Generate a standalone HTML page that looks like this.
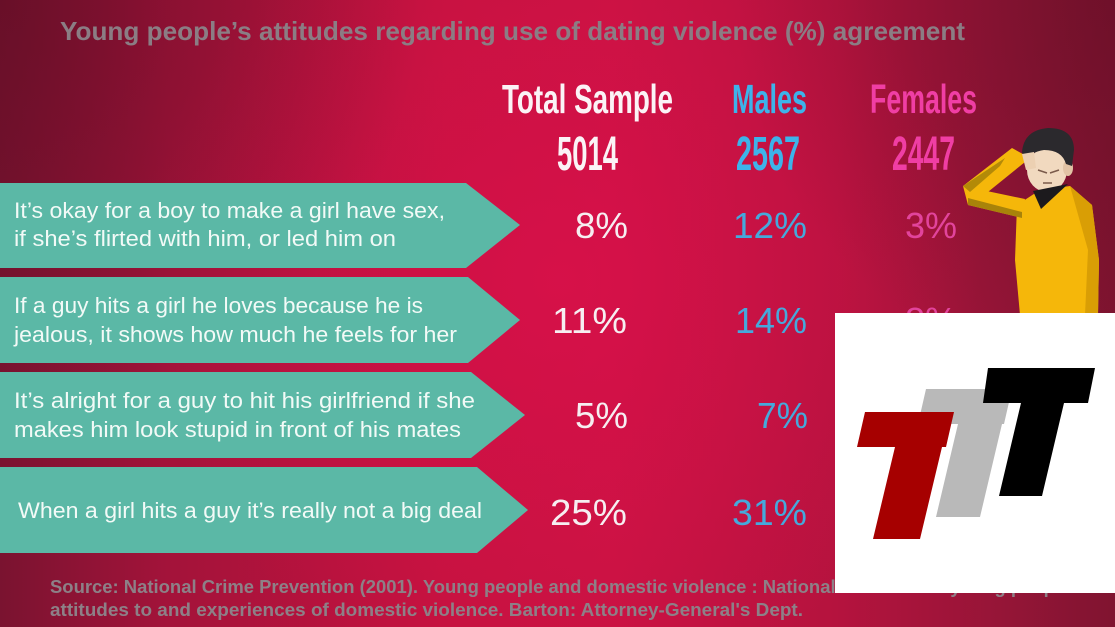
<!DOCTYPE html>
<html><head><meta charset="utf-8"><style>
html,body{margin:0;padding:0;width:1115px;height:627px;overflow:hidden;background:#b0123c}
svg{display:block}
</style></head><body>
<svg width="1115" height="627" viewBox="0 0 1115 627" xmlns="http://www.w3.org/2000/svg">
<defs>
<linearGradient id="lin" x1="0" y1="0" x2="1" y2="0">
<stop offset="0" stop-color="#7a1330"/>
<stop offset="0.15" stop-color="#a3133a"/>
<stop offset="0.4" stop-color="#c4123f"/>
<stop offset="0.55" stop-color="#c81242"/>
<stop offset="0.75" stop-color="#b5133e"/>
<stop offset="0.9" stop-color="#951537"/>
<stop offset="1" stop-color="#801430"/>
</linearGradient>
<radialGradient id="rad" cx="560" cy="280" r="420" gradientUnits="userSpaceOnUse">
<stop offset="0" stop-color="#e0104e" stop-opacity="0.6"/>
<stop offset="1" stop-color="#e0104e" stop-opacity="0"/>
</radialGradient>
<radialGradient id="tl" cx="0" cy="0" r="420" gradientUnits="userSpaceOnUse">
<stop offset="0" stop-color="#5a0c22" stop-opacity="0.55"/>
<stop offset="1" stop-color="#5a0c22" stop-opacity="0"/>
</radialGradient>
<radialGradient id="tr" cx="1115" cy="0" r="380" gradientUnits="userSpaceOnUse">
<stop offset="0" stop-color="#5a0c22" stop-opacity="0.45"/>
<stop offset="1" stop-color="#5a0c22" stop-opacity="0"/>
</radialGradient>
</defs>
<rect width="1115" height="627" fill="url(#lin)"/>
<rect width="1115" height="627" fill="url(#rad)"/>
<rect width="1115" height="627" fill="url(#tl)"/>
<rect width="1115" height="627" fill="url(#tr)"/>

<!-- Title -->
<text x="60" y="40" font-family="Liberation Sans, sans-serif" font-weight="bold" font-size="26" fill="#8b7d84" textLength="905" lengthAdjust="spacingAndGlyphs">Young people’s attitudes regarding use of dating violence (%) agreement</text>

<!-- Headers -->
<g font-family="Liberation Sans, sans-serif" font-weight="bold">
<text x="502" y="113" font-size="41" fill="#fbf3f6" textLength="171" lengthAdjust="spacingAndGlyphs">Total Sample</text>
<text x="732" y="113" font-size="41" fill="#3db3ea" textLength="75" lengthAdjust="spacingAndGlyphs">Males</text>
<text x="870" y="113" font-size="41" fill="#f03ea4" textLength="107" lengthAdjust="spacingAndGlyphs">Females</text>
<text x="557" y="170" font-size="48" fill="#fbf3f6" textLength="61" lengthAdjust="spacingAndGlyphs">5014</text>
<text x="736" y="170" font-size="48" fill="#3db3ea" textLength="64" lengthAdjust="spacingAndGlyphs">2567</text>
<text x="892" y="170" font-size="48" fill="#f03ea4" textLength="63" lengthAdjust="spacingAndGlyphs">2447</text>
</g>

<!-- Arrows -->
<g fill="#5bb8a6">
<polygon points="0,183 466,183 520,225 466,268 0,268"/>
<polygon points="0,277 468,277 520,320 468,363 0,363"/>
<polygon points="0,372 471,372 525,415 471,458 0,458"/>
<polygon points="0,467 477,467 528,510 477,553 0,553"/>
</g>
<g font-family="Liberation Sans, sans-serif" font-size="22" fill="#f2faf7">
<text x="14" y="218" textLength="431" lengthAdjust="spacingAndGlyphs">It’s okay for a boy to make a girl have sex,</text>
<text x="14" y="246" textLength="382" lengthAdjust="spacingAndGlyphs">if she’s flirted with him, or led him on</text>
<text x="14" y="313" textLength="409" lengthAdjust="spacingAndGlyphs">If a guy hits a girl he loves because he is</text>
<text x="14" y="342" textLength="443" lengthAdjust="spacingAndGlyphs">jealous, it shows how much he feels for her</text>
<text x="14" y="408" textLength="461" lengthAdjust="spacingAndGlyphs">It’s alright for a guy to hit his girlfriend if she</text>
<text x="14" y="437" textLength="447" lengthAdjust="spacingAndGlyphs">makes him look stupid in front of his mates</text>
<text x="18" y="518" textLength="464" lengthAdjust="spacingAndGlyphs">When a girl hits a guy it’s really not a big deal</text>
</g>

<!-- Percentages -->
<g font-family="Liberation Sans, sans-serif" font-size="36">
<text x="575" y="238" fill="#f6eef1" textLength="53" lengthAdjust="spacingAndGlyphs">8%</text>
<text x="733" y="238" fill="#45a9dc" textLength="74" lengthAdjust="spacingAndGlyphs">12%</text>
<text x="905" y="238" fill="#e2449c" textLength="52" lengthAdjust="spacingAndGlyphs">3%</text>
<text x="552" y="333" fill="#f6eef1" textLength="75" lengthAdjust="spacingAndGlyphs">11%</text>
<text x="735" y="333" fill="#45a9dc" textLength="72" lengthAdjust="spacingAndGlyphs">14%</text>
<text x="905" y="333" fill="#e2449c" textLength="52" lengthAdjust="spacingAndGlyphs">8%</text>
<text x="575" y="428" fill="#f6eef1" textLength="53" lengthAdjust="spacingAndGlyphs">5%</text>
<text x="757" y="428" fill="#45a9dc" textLength="51" lengthAdjust="spacingAndGlyphs">7%</text>
<text x="550" y="525" fill="#f6eef1" textLength="77" lengthAdjust="spacingAndGlyphs">25%</text>
<text x="732" y="525" fill="#45a9dc" textLength="75" lengthAdjust="spacingAndGlyphs">31%</text>
</g>

<!-- Source -->
<g font-family="Liberation Sans, sans-serif" font-weight="bold" font-size="18" fill="#8d8087">
<text x="50" y="593" textLength="1035" lengthAdjust="spacingAndGlyphs">Source: National Crime Prevention (2001). Young people and domestic violence : National research on young people's</text>
<text x="50" y="616" textLength="753" lengthAdjust="spacingAndGlyphs">attitudes to and experiences of domestic violence. Barton: Attorney-General's Dept.</text>
</g>

<!-- Character -->
<g>
<polygon points="1017,205 1040,190 1070,186 1092,205 1099,260 1098,315 1020,315 1015,260" fill="#f5b70a"/>
<polygon points="1070,186 1092,205 1099,260 1098,315 1085,315 1088,250" fill="#d99e05"/>
<polygon points="963,186 1025,199 1022,218 968,205" fill="#f5b70a"/>
<polygon points="968,198 1022,212 1022,218 968,205" fill="#a8830a"/>
<polygon points="963,186 1012,148 1030,158 978,200" fill="#f5b70a"/>
<polygon points="963,186 1005,158 1000,166 970,192" fill="#b38a08"/>
<ellipse cx="1047" cy="170" rx="20" ry="22" fill="#f1d9bf"/>
<ellipse cx="1068" cy="168" rx="5" ry="8" fill="#e2c3a5"/>
<path d="M1022,152 Q1024,130 1048,128 Q1074,128 1074,150 L1072,166 L1066,164 Q1062,150 1044,150 Q1030,152 1025,162 Z" fill="#2b292d"/>
<polygon points="1022,154 1034,152 1036,168 1026,170" fill="#ecd0b2"/>
<polygon points="1033,191 1068,184 1041,209" fill="#1c1a1d"/>
<path d="M1038,170 l9,3 M1050,173 l9,-3 M1043,183 l9,0" stroke="#7a5a4a" stroke-width="1.5" fill="none"/>
</g>

<!-- White logo box -->
<rect x="835" y="313" width="280" height="280" fill="#ffffff"/>
<polygon points="926,389 1012,389 1004,424 1002,424 980,517 936,517 958,424 918,424" fill="#b9b9b9"/>
<polygon points="865,412 954,412 946,447 942,447 920,539 873,539 895,447 857,447" fill="#a60000"/>
<polygon points="988,368 1095,368 1088,403 1064,403 1042,496 999,496 1021,403 983,403" fill="#000000"/>
</svg>
</body></html>
